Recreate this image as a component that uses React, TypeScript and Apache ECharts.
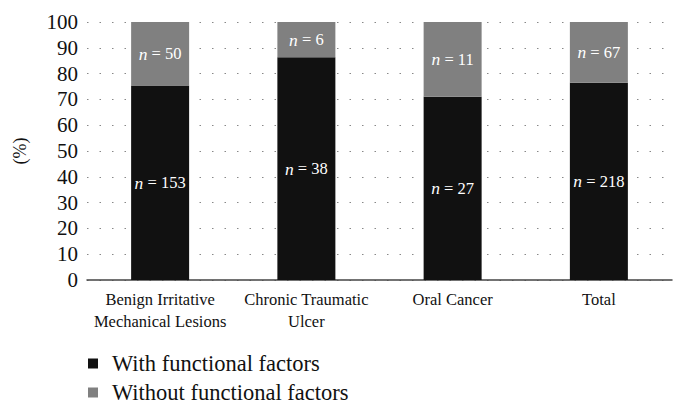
import React, { useEffect, useRef } from "react";
import * as echarts from "echarts";

const categories = ["Benign Irritative\nMechanical Lesions", "Chronic Traumatic\nUlcer", "Oral Cancer", "Total"];
const withCounts = [153, 38, 27, 218];
const withoutCounts = [50, 6, 11, 67];
const yTicks = [0, 10, 20, 30, 40, 50, 60, 70, 80, 90, 100];

const FONT = "Liberation Serif";

export default function App() {
  const ref = useRef<HTMLDivElement>(null);
  useEffect(() => {
    if (!ref.current) return;
    const chart = echarts.init(ref.current, null, { renderer: "svg" });
    const totals = withCounts.map((v, i) => v + withoutCounts[i]);
    const withPct = withCounts.map((v, i) => (v / totals[i]) * 100);
    const withoutPct = withoutCounts.map((v, i) => (v / totals[i]) * 100);
    const label = (counts: number[]) => ({
      show: true,
      position: "inside",
      formatter: (p: any) => `{i|n} {t|= ${counts[p.dataIndex]}}`,
      color: "#fff",
      fontFamily: FONT,
      fontSize: 16.5,
      rich: {
        i: { fontStyle: "italic", fontFamily: FONT, fontSize: 17.5, color: "#fff" },
        t: { fontFamily: FONT, fontSize: 16.5, color: "#fff" },
      },
    });
    chart.setOption({
      animation: false,
      textStyle: { fontFamily: FONT },
      grid: { left: 87, right: 14, top: 22, bottom: 130 },
      legend: {
        orient: "vertical",
        left: 88,
        top: 352,
        padding: 0,
        itemWidth: 10,
        itemHeight: 10,
        itemGap: 6,
        icon: "rect",
        textStyle: { fontFamily: FONT, fontSize: 22.5, color: "#111", lineHeight: 22, padding: [0, 0, 0, 9] },
        data: ["With functional factors", "Without functional factors"],
      },
      xAxis: {
        type: "category",
        data: categories,
        axisLine: { lineStyle: { color: "#444", width: 1.5 } },
        axisTick: { show: false },
        axisLabel: { fontFamily: FONT, fontSize: 16.5, color: "#111", lineHeight: 22, margin: 8, interval: 0 },
      },
      yAxis: {
        type: "value",
        min: 0,
        max: 100,
        interval: 10,
        name: "(%)",
        nameLocation: "middle",
        nameRotate: 90,
        nameGap: 58,
        nameTextStyle: { fontFamily: FONT, fontSize: 18, color: "#111" },
        axisLine: { show: false },
        axisTick: { show: false },
        axisLabel: {
          fontFamily: FONT,
          fontSize: 21,
          color: "#111",
          margin: 9,
          formatter: (v: number) => (yTicks.includes(v) ? String(v) : ""),
        },
        splitLine: { lineStyle: { color: "#888", width: 1, type: [1.5, 11] } },
      },
      series: [
        {
          name: "With functional factors",
          type: "bar",
          stack: "s",
          barWidth: 58,
          data: withPct,
          itemStyle: { color: "#111111" },
          label: label(withCounts),
        },
        {
          name: "Without functional factors",
          type: "bar",
          stack: "s",
          barWidth: 58,
          data: withoutPct,
          itemStyle: { color: "#808080" },
          label: label(withoutCounts),
        },
      ],
    });
    return () => chart.dispose();
  }, []);
  return <div ref={ref} style={{ width: 686, height: 410, marginLeft: -8, marginTop: -8 }} />;
}
